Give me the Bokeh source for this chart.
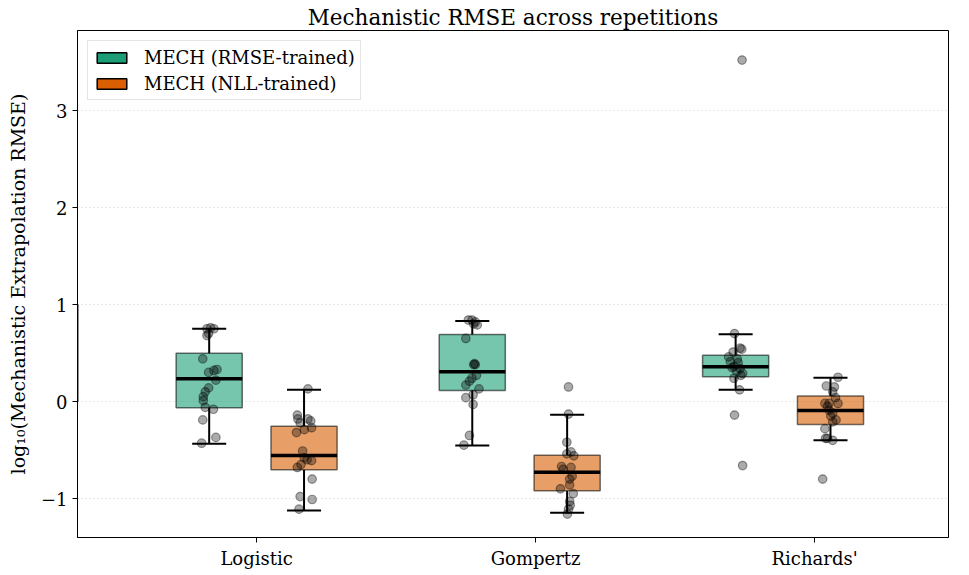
from bokeh.plotting import figure
from bokeh.models import FixedTicker, Legend, LegendItem, ColumnDataSource
from bokeh.embed import file_html
from bokeh.resources import INLINE

# ---- data: log10 mechanistic extrapolation RMSE per model ----
models = ["Logistic", "Gompertz", "Richards'"]
series = ["MECH (RMSE-trained)", "MECH (NLL-trained)"]

# box statistics (q1, median, q3, whisker low, whisker high) per model
rmse_q1 = [-0.065, 0.113, 0.256]
rmse_med = [0.234, 0.307, 0.358]
rmse_q3 = [0.498, 0.690, 0.478]
rmse_lo = [-0.436, -0.453, 0.120]
rmse_hi = [0.749, 0.829, 0.693]

nll_q1 = [-0.704, -0.921, -0.238]
nll_med = [-0.557, -0.730, -0.092]
nll_q3 = [-0.254, -0.553, 0.058]
nll_lo = [-1.124, -1.146, -0.399]
nll_hi = [0.120, -0.136, 0.246]

# individual repetitions
rmse_logistic = [0.75, 0.76, 0.75, 0.70, 0.68, 0.44, 0.33, 0.32, 0.30, 0.22,
                 0.14, 0.10, 0.05, 0.01, -0.06, -0.08, -0.19, -0.37, -0.43]
rmse_gompertz = [0.84, 0.84, 0.82, 0.79, 0.80, 0.65, 0.39, 0.38, 0.38, 0.27,
                 0.24, 0.21, 0.17, 0.13, 0.07, 0.04, -0.03, -0.35, -0.45]
rmse_richards = [3.52, 0.70, 0.55, 0.54, 0.51, 0.46, 0.44, 0.41, 0.40, 0.36,
                 0.35, 0.34, 0.31, 0.29, 0.27, 0.24, 0.12, -0.14, -0.66]
nll_logistic = [0.13, -0.14, -0.18, -0.18, -0.20, -0.22, -0.27, -0.29, -0.32, -0.51,
                -0.58, -0.60, -0.61, -0.65, -0.68, -0.80, -0.98, -1.01, -1.11]
nll_gompertz = [0.15, -0.13, -0.42, -0.52, -0.54, -0.56, -0.67, -0.68, -0.70, -0.77,
                -0.80, -0.86, -0.90, -0.95, -1.03, -1.07, -1.11, -1.16]
nll_richards = [0.25, 0.16, 0.15, 0.10, 0.04, -0.02, -0.02, -0.02, -0.05, -0.09,
                -0.12, -0.15, -0.19, -0.21, -0.28, -0.38, -0.38, -0.40, -0.80]

# horizontal jitter of the strip points
jit_rmse_logistic = [-.008, .005, .017, -.002, -.008, -.023, .028, .017, -.002, .024,
                     -.002, -.014, -.021, -.021, -.014, .015, -.023, .024, -.027]
jit_rmse_gompertz = [-.014, -.001, .011, .018, .005, -.023, .008, .005, .011, .015,
                     -.001, -.010, -.023, .024, .003, -.023, .003, -.010, -.030]
jit_rmse_richards = [.023, -.004, .016, .022, -.009, -.025, .006, -.019, .009, -.006,
                     -.013, .016, .004, .025, .019, -.006, .014, -.004, .025]
jit_nll_logistic = [.014, -.024, -.022, .014, .024, -.014, .027, .001, -.027, -.005,
                    .001, .011, .027, -.011, -.024, .029, -.014, .029, -.018]
jit_nll_gompertz = [.005, .005, -.001, .014, -.001, .024, -.020, .014, -.014, .018,
                    .009, .009, -.024, .022, .009, .011, .005, .001]
jit_nll_richards = [.027, -.015, .014, .008, .018, -.020, -.005, .027, -.011, -.005,
                    .008, .001, .020, .008, -.020, -.011, -.018, .008, -.028]

# ---- layout constants ----
GROUP_X = [0.0, 0.943, 1.887]
OFFSET = 0.170
BOX_W = 0.237
CAP_W = 0.122
GREEN = "#1b9e77"
ORANGE = "#d95f02"
FONT = "DejaVu Serif"

p = figure(width=969, height=575, output_backend="svg", toolbar_location=None,
           x_range=(-0.642, 2.480), y_range=(-1.402, 3.825),
           title="Mechanistic RMSE across repetitions")
p.min_border_left = 77
p.min_border_right = 21
p.min_border_top = 30
p.min_border_bottom = 38

p.title.text_font = FONT
p.title.text_font_size = "21.5px"
p.title.text_font_style = "normal"
p.title.align = "center"
p.title.text_color = "black"
p.title.standoff = 2

p.outline_line_color = "black"
p.outline_line_width = 1
p.outline_line_alpha = 1.0

p.xgrid.visible = False
p.ygrid.grid_line_color = "#d0d0d0"
p.ygrid.grid_line_dash = "1 3"
p.ygrid.grid_line_width = 1

p.xaxis.ticker = FixedTicker(ticks=[0, 1, 2])
p.xaxis.major_label_overrides = {i: m for i, m in enumerate(models)}
p.yaxis.ticker = FixedTicker(ticks=[-1, 0, 1, 2, 3])
p.yaxis.major_label_overrides = {-1: "\u22121"}
p.yaxis.axis_label = "log\u2081\u2080(Mechanistic Extrapolation RMSE)"
p.yaxis.axis_label_standoff = 9

for ax in (p.xaxis[0], p.yaxis[0]):
    ax.axis_line_color = "black"
    ax.major_tick_line_color = "black"
    ax.major_tick_out = 5
    ax.major_tick_in = 0
    ax.minor_tick_line_color = None
    ax.major_label_text_font = FONT
    ax.major_label_text_font_size = "18px"
    ax.major_label_text_color = "black"
    ax.axis_label_text_font = FONT
    ax.axis_label_text_font_size = "19px"
    ax.axis_label_text_font_style = "normal"
    ax.axis_label_text_color = "black"
    ax.major_label_standoff = 5

groups = [
    (-OFFSET, GREEN, rmse_q1, rmse_med, rmse_q3, rmse_lo, rmse_hi,
     [rmse_logistic, rmse_gompertz, rmse_richards],
     [jit_rmse_logistic, jit_rmse_gompertz, jit_rmse_richards]),
    (OFFSET, ORANGE, nll_q1, nll_med, nll_q3, nll_lo, nll_hi,
     [nll_logistic, nll_gompertz, nll_richards],
     [jit_nll_logistic, jit_nll_gompertz, jit_nll_richards]),
]

legend_renderers = []
for off, color, q1, med, q3, lo, hi, pts, jits in groups:
    xs = [g + off for g in GROUP_X]
    src = ColumnDataSource(dict(x=xs, q1=q1, med=med, q3=q3, lo=lo, hi=hi,
                                cl=[x - CAP_W / 2 for x in xs],
                                cr=[x + CAP_W / 2 for x in xs],
                                ml=[x - BOX_W / 2 for x in xs],
                                mr=[x + BOX_W / 2 for x in xs]))
    # whiskers and caps
    p.segment(x0="x", y0="q3", x1="x", y1="hi", source=src, line_color="black", line_width=2)
    p.segment(x0="x", y0="q1", x1="x", y1="lo", source=src, line_color="black", line_width=2)
    p.segment(x0="cl", y0="hi", x1="cr", y1="hi", source=src, line_color="black", line_width=2)
    p.segment(x0="cl", y0="lo", x1="cr", y1="lo", source=src, line_color="black", line_width=2)
    # box
    p.vbar(x="x", width=BOX_W, bottom="q1", top="q3", source=src,
           fill_color=color, fill_alpha=0.6, line_color="black", line_alpha=0.55, line_width=1.5)
    # median
    p.segment(x0="ml", y0="med", x1="mr", y1="med", source=src, line_color="black", line_width=3.5)
    # repetitions
    for gi, (vals, jit) in enumerate(zip(pts, jits)):
        p.scatter(x=[xs[gi] + j for j in jit], y=vals, size=8.5,
                  fill_color="black", fill_alpha=0.33,
                  line_color="black", line_alpha=0.4, line_width=1.2)
    # legend proxy, parked outside the visible range
    legend_renderers.append(p.vbar(x=[-10], width=0.1, top=[1], bottom=[0],
                                   fill_color=color, line_color="black", line_width=1.5))

legend = Legend(items=[LegendItem(label=s, renderers=[r]) for s, r in zip(series, legend_renderers)],
                location="top_left")
legend.margin = 10
legend.padding = 5
legend.spacing = 4
legend.glyph_width = 37
legend.glyph_height = 13
legend.label_standoff = 14
legend.label_height = 22
legend.label_text_font = FONT
legend.label_text_font_size = "18px"
legend.label_text_color = "black"
legend.border_line_color = "#cccccc"
legend.border_line_width = 1
legend.background_fill_alpha = 0.85
p.add_layout(legend)

open("out.html", "w").write(file_html(p, INLINE))
